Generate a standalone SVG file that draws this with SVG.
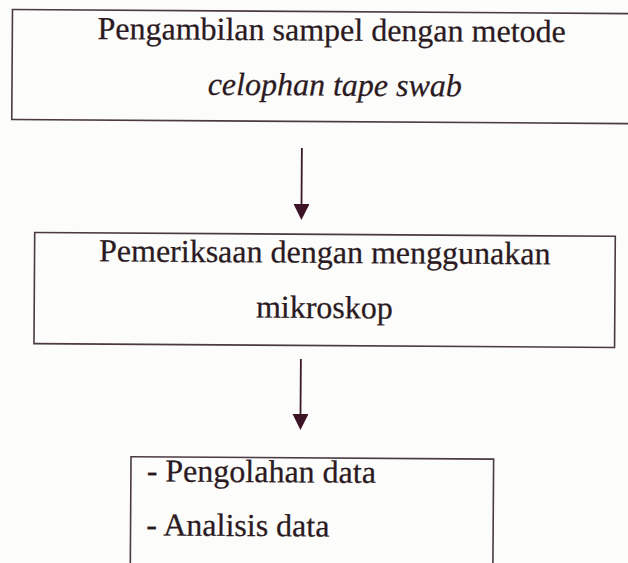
<svg xmlns="http://www.w3.org/2000/svg" width="628" height="563" viewBox="0 0 628 563">
  <defs>
    <style>
      .box { fill: none; stroke: #4a3a42; stroke-width: 1.6; }
      .t { font-family: "Liberation Serif", "Times New Roman", serif; font-size: 32px; fill: #2b1a22; stroke: #2b1a22; stroke-width: 0.25; }
      .c { text-anchor: middle; }
      .i { font-style: italic; }
      .conn { stroke: #3d1a2a; stroke-width: 1.8; fill: none; }
    </style>
    <marker id="arrow" viewBox="0 0 16 16" markerWidth="16" markerHeight="16" markerUnits="userSpaceOnUse" refX="0" refY="8" orient="auto">
      <path d="M0,0 L16,8 L0,16 z" fill="#3d1426"/>
    </marker>
  </defs>
  <rect x="0" y="0" width="628" height="563" fill="#fcfcfa"/>
  <g transform="rotate(0.38 314 280)">
    <g id="node-sampling">
      <rect class="box" x="10.7" y="11.5" width="640" height="110"/>
      <text class="t c" x="330" y="40.5">Pengambilan sampel dengan metode</text>
      <text class="t c i" x="333.5" y="95.5">celophan tape swab</text>
    </g>
    <g id="node-examination">
      <rect class="box" x="34.4" y="234.3" width="580.6" height="111.2"/>
      <text class="t c" x="324.6" y="262.8">Pemeriksaan dengan menggunakan</text>
      <text class="t c" x="324.6" y="318">mikroskop</text>
    </g>
    <g id="node-analysis">
      <rect class="box" x="132.2" y="457.9" width="362.6" height="130"/>
      <text class="t" x="148" y="482.5">- Pengolahan data</text>
      <text class="t" x="148" y="536.5">- Analisis data</text>
    </g>
    <g id="connectors">
      <line class="conn" x1="301" y1="148" x2="301" y2="204" marker-end="url(#arrow)"/>
      <line class="conn" x1="301.4" y1="359" x2="301.4" y2="414" marker-end="url(#arrow)"/>
    </g>
  </g>
</svg>
